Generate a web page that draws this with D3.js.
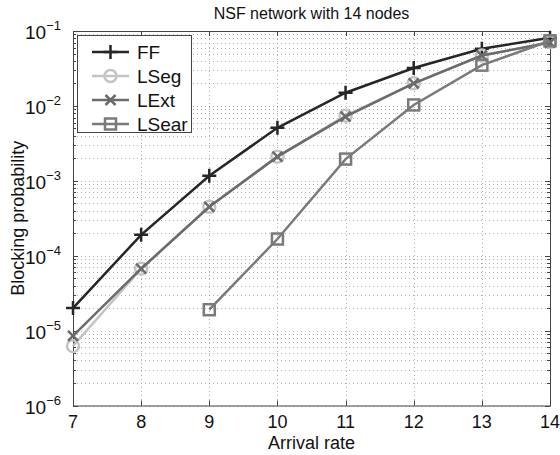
<!DOCTYPE html>
<meta charset="utf-8" />
<script src="https://d3js.org/d3.v7.min.js"></script>
<style>
  body { margin: 0; background: #fff; }
  text { font-family: "Liberation Sans", Arial, sans-serif; fill: #111; }
</style>
<body>
<div id="chart"></div>
<script>
// arrival rates on the x axis
var rates = [7, 8, 9, 10, 11, 12, 13, 14];
// blocking probability for each scheme
var ffVals    = [2.0e-5, 1.9e-4, 1.17e-3, 5.1e-3, 1.5e-2, 3.2e-2, 5.8e-2, 8.1e-2];
var lsegVals  = [6.2e-6, 6.7e-5, 4.5e-4, 2.1e-3, 7.4e-3, 2.0e-2, 4.7e-2, 7.1e-2];
var lextVals  = [8.5e-6, 6.7e-5, 4.5e-4, 2.1e-3, 7.2e-3, 2.0e-2, 4.7e-2, 7.0e-2];
var lsearRates = [9, 10, 11, 12, 13, 14];
var lsearVals = [1.9e-5, 1.67e-4, 1.95e-3, 1.03e-2, 3.5e-2, 7.4e-2];
var yTickExps = [-6, -5, -4, -3, -2, -1];

var series = [
  { name: "FF",    x: rates,      y: ffVals,    color: "#262626", marker: "plus" },
  { name: "LSeg",  x: rates,      y: lsegVals,  color: "#c4c4c4", marker: "circle" },
  { name: "LExt",  x: rates,      y: lextVals,  color: "#6b6b6b", marker: "cross" },
  { name: "LSear", x: lsearRates, y: lsearVals, color: "#7a7a7a", marker: "square" }
];

var W = 560, H = 455;
var margin = { top: 31, right: 10, bottom: 49.5, left: 73 };
var width = W - margin.left - margin.right,
    height = H - margin.top - margin.bottom;

var svg = d3.select("#chart").append("svg")
  .attr("width", W).attr("height", H);
var g = svg.append("g")
  .attr("transform", "translate(" + margin.left + "," + margin.top + ")");

var x = d3.scaleLinear().domain([7, 14]).range([0, width]);
var y = d3.scaleLog().domain([1e-6, 1e-1]).range([height, 0]);

// minor log ticks
var minor = [];
for (var e = -6; e < -1; e++) {
  for (var m = 2; m <= 9; m++) minor.push(m * Math.pow(10, e));
}
var major = yTickExps.map(function (e) { return Math.pow(10, e); });

// grid
var grid = g.append("g").attr("stroke", "#9a9a9a").attr("stroke-width", 0.8)
  .attr("stroke-dasharray", "1,3");
grid.selectAll(".hy").data(minor.concat(major)).enter().append("line")
  .attr("x1", 0).attr("x2", width)
  .attr("y1", function (d) { return Math.round(y(d)) + 0.5; })
  .attr("y2", function (d) { return Math.round(y(d)) + 0.5; });
grid.selectAll(".vx").data(rates.slice(1, -1)).enter().append("line")
  .attr("y1", 0).attr("y2", height)
  .attr("x1", function (d) { return Math.round(x(d)) + 0.5; })
  .attr("x2", function (d) { return Math.round(x(d)) + 0.5; });

// tick marks on all four sides (pointing inward)
var tk = g.append("g").attr("stroke", "#444").attr("stroke-width", 1);
major.forEach(function (d) {
  var yy = Math.round(y(d)) + 0.5;
  tk.append("line").attr("x1", 0).attr("x2", 5).attr("y1", yy).attr("y2", yy);
  tk.append("line").attr("x1", width).attr("x2", width - 5).attr("y1", yy).attr("y2", yy);
});
minor.forEach(function (d) {
  var yy = Math.round(y(d)) + 0.5;
  tk.append("line").attr("x1", 0).attr("x2", 3).attr("y1", yy).attr("y2", yy);
  tk.append("line").attr("x1", width).attr("x2", width - 3).attr("y1", yy).attr("y2", yy);
});
rates.forEach(function (d) {
  var xx = Math.round(x(d)) + 0.5;
  tk.append("line").attr("x1", xx).attr("x2", xx).attr("y1", height).attr("y2", height - 5);
  tk.append("line").attr("x1", xx).attr("x2", xx).attr("y1", 0).attr("y2", 5);
});

// frame
g.append("rect").attr("x", 0.5).attr("y", 0.5)
  .attr("width", width).attr("height", height)
  .attr("fill", "none").attr("stroke", "#444").attr("stroke-width", 1);

// x tick labels
g.selectAll(".xl").data(rates).enter().append("text")
  .attr("x", function (d) { return x(d); })
  .attr("y", height + 22)
  .attr("text-anchor", "middle")
  .style("font-size", "18px")
  .text(function (d) { return d; });

// y tick labels 10^e
var yl = g.selectAll(".yl").data(yTickExps).enter().append("text")
  .attr("x", -12)
  .attr("y", function (e) { return y(Math.pow(10, e)) + 8; })
  .attr("text-anchor", "end")
  .style("font-size", "19px");
yl.append("tspan").text("10");
yl.append("tspan").attr("dy", -9).style("font-size", "13px")
  .text(function (e) { return "\u2212" + (-e); });

// axis titles
svg.append("text").attr("x", margin.left + width / 2).attr("y", 449)
  .attr("text-anchor", "middle").style("font-size", "18px").text("Arrival rate");
svg.append("text")
  .attr("transform", "translate(24," + (margin.top + height / 2) + ") rotate(-90)")
  .attr("text-anchor", "middle").style("font-size", "18px").text("Blocking probability");
svg.append("text").attr("x", margin.left + width / 2).attr("y", 19)
  .attr("text-anchor", "middle").style("font-size", "16px").text("NSF network with 14 nodes");

function drawMarker(sel, type, color) {
  if (type === "plus") {
    sel.append("path").attr("d", "M-7,0H7M0,-7V7").attr("stroke", color).attr("stroke-width", 2.5);
  } else if (type === "cross") {
    sel.append("path").attr("d", "M-5,-5L5,5M-5,5L5,-5").attr("stroke", color).attr("stroke-width", 2.5);
  } else if (type === "circle") {
    sel.append("circle").attr("r", 6).attr("fill", "none").attr("stroke", color).attr("stroke-width", 2.5);
  } else if (type === "square") {
    sel.append("rect").attr("x", -5.5).attr("y", -5.5).attr("width", 11).attr("height", 11)
      .attr("fill", "none").attr("stroke", color).attr("stroke-width", 2.5);
  }
}

var line = d3.line()
  .x(function (d) { return x(d[0]); })
  .y(function (d) { return y(d[1]); });

series.forEach(function (s) {
  var pts = s.x.map(function (v, i) { return [v, s.y[i]]; });
  var sg = g.append("g");
  sg.append("path").datum(pts).attr("d", line)
    .attr("fill", "none").attr("stroke", s.color).attr("stroke-width", 2.5);
  pts.forEach(function (p) {
    var mg = sg.append("g").attr("transform", "translate(" + x(p[0]) + "," + y(p[1]) + ")");
    drawMarker(mg, s.marker, s.color);
  });
});

// legend
var lg = g.append("g").attr("transform", "translate(4,4)");
lg.append("rect").attr("x", 0.5).attr("y", 0.5).attr("width", 114).attr("height", 97)
  .attr("fill", "#fff").attr("stroke", "#444").attr("stroke-width", 1);
series.forEach(function (s, i) {
  var yy = 17 + i * 24;
  lg.append("line").attr("x1", 15).attr("x2", 52).attr("y1", yy).attr("y2", yy)
    .attr("stroke", s.color).attr("stroke-width", 2.5);
  var mg = lg.append("g").attr("transform", "translate(33.5," + yy + ")");
  drawMarker(mg, s.marker, s.color);
  lg.append("text").attr("x", 60).attr("y", yy + 7).style("font-size", "19px").text(s.name);
});
</script>
</body>
